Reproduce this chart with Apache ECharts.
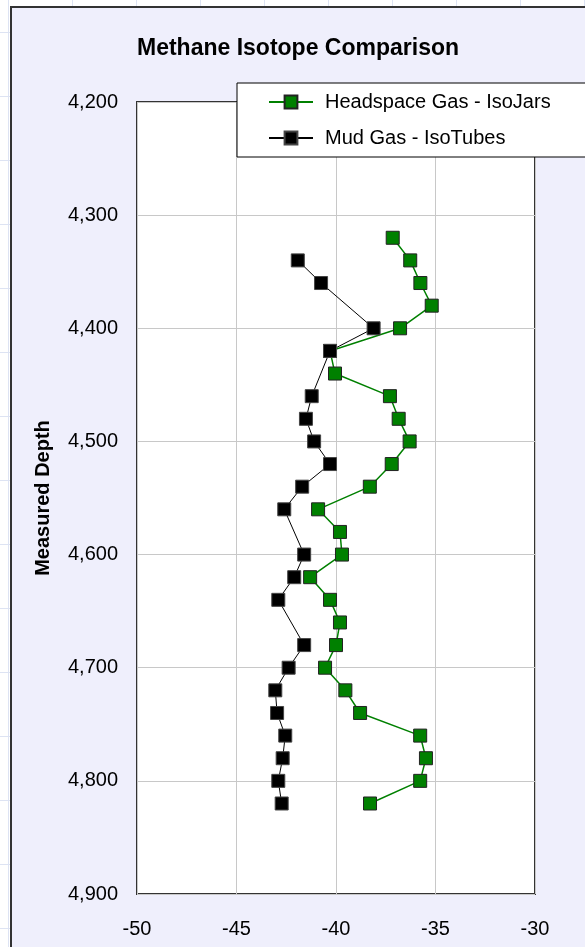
<!DOCTYPE html>
<html>
<head>
<meta charset="utf-8">
<script src="https://cdn.jsdelivr.net/npm/echarts@6/dist/echarts.min.js"></script>
<style>
html,body{margin:0;padding:0;width:585px;height:947px;overflow:hidden;}
body{
  background-color:#ffffff;
  background-image:
    repeating-linear-gradient(to right, transparent 0px, transparent 8px, #dde3f3 8px, #dde3f3 9px, transparent 9px, transparent 64px),
    repeating-linear-gradient(to bottom, transparent 0px, transparent 32px, #dde3f3 32px, #dde3f3 33px, transparent 33px, transparent 64px);
}
#frame{position:absolute;left:10px;top:6px;width:620px;height:980px;background:#EFEFFC;border:2px solid #333;box-sizing:border-box;}
#chart{position:absolute;left:0;top:0;width:585px;height:947px;}
</style>
</head>
<body>
<div id="frame"></div>
<div id="chart"></div>
<script>
// Depths (ft) and methane δ13C values
const headspaceDepths = [4320,4340,4360,4380,4400,4420,4440,4460,4480,4500,4520,4540,4560,4580,4600,4620,4640,4660,4680,4700,4720,4740,4760,4780,4800,4820];
const headspaceValues = [-37.15,-36.27,-35.76,-35.19,-36.78,-40.3,-40.05,-37.29,-36.85,-36.3,-37.2,-38.3,-40.9,-39.8,-39.7,-41.3,-40.3,-39.8,-40.0,-40.55,-39.53,-38.79,-35.77,-35.48,-35.77,-38.29];
const mudDepths = [4340,4360,4400,4420,4460,4480,4500,4520,4540,4560,4600,4620,4640,4680,4700,4720,4740,4760,4780,4800,4820];
const mudValues = [-41.92,-40.75,-38.11,-40.3,-41.22,-41.51,-41.1,-40.3,-41.7,-42.6,-41.6,-42.1,-42.9,-41.6,-42.38,-43.05,-42.96,-42.55,-42.68,-42.9,-42.73];
const seriesNames = ['Headspace Gas - IsoJars','Mud Gas - IsoTubes'];
const xTicks = {min:-50, max:-30, interval:5};
const yTicks = {min:4200, max:4900, interval:100};

const chart = echarts.init(document.getElementById('chart'), null, {renderer:'canvas'});
const font = 'Liberation Sans, Arial, sans-serif';
chart.setOption({
  backgroundColor:'transparent',
  animation:false,
  title:{
    text:'Methane Isotope Comparison',
    left:137, top:37, padding:0,
    textStyle:{fontFamily:font, fontSize:23, fontWeight:'bold', color:'#000'}
  },
  legend:{
    orient:'vertical',
    left:237, top:83,
    padding:[8,60,8,31],
    itemGap:14,
    itemWidth:44, itemHeight:16,
    backgroundColor:'#fff',
    borderColor:'#000', borderWidth:1,
    textStyle:{fontFamily:font, fontSize:20, color:'#000', lineHeight:22, padding:[0,0,0,7]},
    data:seriesNames
  },
  grid:{
    left:137, right:50, top:102, bottom:53,
    show:true, backgroundColor:'#fff', borderColor:'#333', borderWidth:2
  },
  xAxis:{
    type:'value', min:xTicks.min, max:xTicks.max, interval:xTicks.interval,
    axisLine:{show:false}, axisTick:{show:false},
    axisLabel:{fontFamily:font, fontSize:20, color:'#000', margin:25},
    splitLine:{show:true, lineStyle:{color:'#c8c8c8', width:1}}
  },
  yAxis:{
    type:'value', inverse:true, min:yTicks.min, max:yTicks.max, interval:yTicks.interval,
    name:'Measured Depth', nameLocation:'middle', nameGap:84,
    nameTextStyle:{fontFamily:font, fontSize:20, fontWeight:'bold', color:'#000'},
    axisLine:{show:false}, axisTick:{show:false},
    axisLabel:{fontFamily:font, fontSize:20, color:'#000', margin:19,
      formatter:v=>v.toLocaleString('en-US')},
    splitLine:{show:true, lineStyle:{color:'#c8c8c8', width:1}}
  },
  series:[
    {
      name:seriesNames[0], type:'line',
      data:headspaceValues.map((v,i)=>[v, headspaceDepths[i]]),
      symbol:'rect', symbolSize:13,
      lineStyle:{color:'#008000', width:1.5},
      itemStyle:{color:'#008000', borderColor:'#222', borderWidth:1},
      z:2
    },
    {
      name:seriesNames[1], type:'line',
      data:mudValues.map((v,i)=>[v, mudDepths[i]]),
      symbol:'rect', symbolSize:13,
      lineStyle:{color:'#000', width:1},
      itemStyle:{color:'#000', borderColor:'#444', borderWidth:1},
      z:3
    }
  ]
});
</script>
</body>
</html>
